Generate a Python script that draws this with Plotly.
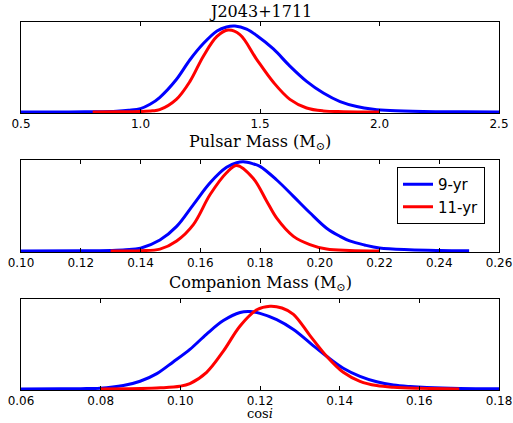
import plotly.graph_objects as go

# Panel 1: pulsar mass
pm_x_9 = [0.5, 0.7, 0.8, 0.9, 0.95, 1.0, 1.04, 1.08, 1.15, 1.207, 1.263, 1.32, 1.36, 1.395, 1.444, 1.486, 1.556, 1.625, 1.695, 1.765, 1.835, 1.905, 1.974, 2.044, 2.183, 2.35, 2.5]
pm_y_9 = [0.0, 0.0, 0.002, 0.008, 0.018, 0.037, 0.085, 0.16, 0.36, 0.58, 0.76, 0.90, 0.945, 0.955, 0.92, 0.85, 0.70, 0.51, 0.34, 0.21, 0.115, 0.06, 0.03, 0.015, 0.004, 0.001, 0.0]
pm_x_11 = [0.8, 0.9, 1.0, 1.05, 1.08, 1.15, 1.207, 1.263, 1.32, 1.367, 1.416, 1.486, 1.556, 1.625, 1.695, 1.765, 1.85, 2.0]
pm_y_11 = [0.0, 0.001, 0.005, 0.012, 0.025, 0.14, 0.34, 0.62, 0.84, 0.91, 0.86, 0.585, 0.33, 0.14, 0.044, 0.011, 0.003, 0.0]

# Panel 2: companion mass
cm_x_9 = [0.10, 0.12, 0.13, 0.135, 0.14, 0.1465, 0.1521, 0.1577, 0.1633, 0.1688, 0.1722, 0.1744, 0.1775, 0.18, 0.1856, 0.1912, 0.1967, 0.2023, 0.2068, 0.21, 0.215, 0.22, 0.23, 0.24, 0.25]
cm_y_9 = [0.0, 0.001, 0.005, 0.012, 0.03, 0.12, 0.27, 0.51, 0.75, 0.92, 0.97, 0.98, 0.96, 0.93, 0.78, 0.60, 0.42, 0.25, 0.16, 0.11, 0.065, 0.032, 0.012, 0.004, 0.001]
cm_x_11 = [0.13, 0.14, 0.1465, 0.1521, 0.1577, 0.1633, 0.1688, 0.1722, 0.1777, 0.1822, 0.1856, 0.1912, 0.1967, 0.2023, 0.21, 0.22]
cm_y_11 = [0.0, 0.003, 0.02, 0.11, 0.29, 0.62, 0.86, 0.94, 0.80, 0.55, 0.36, 0.16, 0.07, 0.02, 0.005, 0.0]

# Panel 3: cos i
ci_x_9 = [0.06, 0.07, 0.075, 0.0798, 0.0857, 0.0899, 0.0941, 0.0982, 0.1024, 0.1066, 0.1108, 0.115, 0.1175, 0.12, 0.1242, 0.1284, 0.1326, 0.1368, 0.1409, 0.1451, 0.1493, 0.1535, 0.1577, 0.1619, 0.1702, 0.18]
ci_y_9 = [0.0, 0.001, 0.003, 0.007, 0.037, 0.085, 0.17, 0.30, 0.44, 0.61, 0.76, 0.85, 0.86, 0.84, 0.77, 0.66, 0.51, 0.36, 0.23, 0.14, 0.08, 0.044, 0.026, 0.015, 0.004, 0.001]
ci_x_11 = [0.08, 0.09, 0.095, 0.0999, 0.1024, 0.1066, 0.1108, 0.115, 0.1192, 0.1225, 0.1255, 0.1284, 0.1326, 0.1368, 0.1409, 0.1451, 0.1493, 0.1535, 0.1602, 0.17]
ci_y_11 = [0.0, 0.004, 0.012, 0.03, 0.06, 0.185, 0.42, 0.70, 0.88, 0.92, 0.90, 0.83, 0.59, 0.36, 0.185, 0.085, 0.037, 0.018, 0.007, 0.0]

series_names = ["9-yr", "11-yr"]
colors = ["#0000ff", "#ff0000"]

panels = [
    (pm_x_9, pm_y_9, pm_x_11, pm_y_11, [0.5, 2.5], 0.5, ".1f", "Pulsar Mass (M<sub>⊙</sub>)"),
    (cm_x_9, cm_y_9, cm_x_11, cm_y_11, [0.10, 0.26], 0.02, ".2f", "Companion Mass (M<sub>⊙</sub>)"),
    (ci_x_9, ci_y_9, ci_x_11, ci_y_11, [0.06, 0.18], 0.02, ".2f", "cos<i>i</i>"),
]

W, H = 513, 423
x_dom = [21 / W, 499 / W]
y_px = [(22, 113), (160, 252), (299, 390)]
# (pixel y, anchor, size) for each axis label
label_pos = [(143, "middle", 16), (283, "middle", 16), (423, "bottom", 13)]

fig = go.Figure()
layout = dict(
    width=W, height=H, margin=dict(l=0, r=0, t=0, b=0, autoexpand=False),
    paper_bgcolor="white", plot_bgcolor="white",
    showlegend=True,
    legend=dict(x=397 / W, y=1 - 167 / H, xanchor="left", yanchor="top",
                bordercolor="black", borderwidth=1, bgcolor="white",
                font=dict(family="DejaVu Sans", size=15, color="black"),
                itemwidth=30, tracegroupgap=0),
    annotations=[dict(text="J2043+1711", x=0.5 * (x_dom[0] + x_dom[1]), y=1 - 11 / H,
                      xref="paper", yref="paper", showarrow=False, yanchor="middle",
                      font=dict(family="DejaVu Serif", size=16, color="black"))],
)

for i, (x9, y9, x11, y11, xr, dt, fmt, label) in enumerate(panels):
    n = "" if i == 0 else str(i + 1)
    xa, ya = "x" + n, "y" + n
    for xs, ys, name, c in [(x9, y9, series_names[0], colors[0]), (x11, y11, series_names[1], colors[1])]:
        fig.add_trace(go.Scatter(x=xs, y=ys, mode="lines", name=name, xaxis=xa, yaxis=ya,
                                 line=dict(color=c, width=3, shape="spline", smoothing=1.0),
                                 showlegend=(i == 1)))
    top, bot = y_px[i]
    layout["xaxis" + n] = dict(domain=x_dom, range=xr, dtick=dt, tick0=xr[0], tickformat=fmt,
                               anchor=ya, showline=True, linecolor="black", linewidth=1,
                               mirror="ticks", ticks="inside", ticklen=4, tickcolor="black",
                               showgrid=False, zeroline=False, automargin=False,
                               tickfont=dict(family="DejaVu Sans", size=12, color="black"))
    layout["yaxis" + n] = dict(domain=[1 - bot / H, 1 - top / H], range=[-0.012, 1.0], anchor=xa,
                               showline=True, linecolor="black", linewidth=1, mirror=True,
                               showticklabels=False, ticks="", showgrid=False, zeroline=False,
                               automargin=False)
    ly, lanchor, lsize = label_pos[i]
    layout["annotations"].append(dict(text=label, x=0.5 * (x_dom[0] + x_dom[1]), y=1 - ly / H,
                                      xref="paper", yref="paper", showarrow=False, yanchor=lanchor,
                                      font=dict(family="DejaVu Serif", size=lsize, color="black")))

fig.update_layout(**layout)
fig.write_html("out.html", config={"displayModeBar": False},
               post_script="document.body.style.margin='0';")
